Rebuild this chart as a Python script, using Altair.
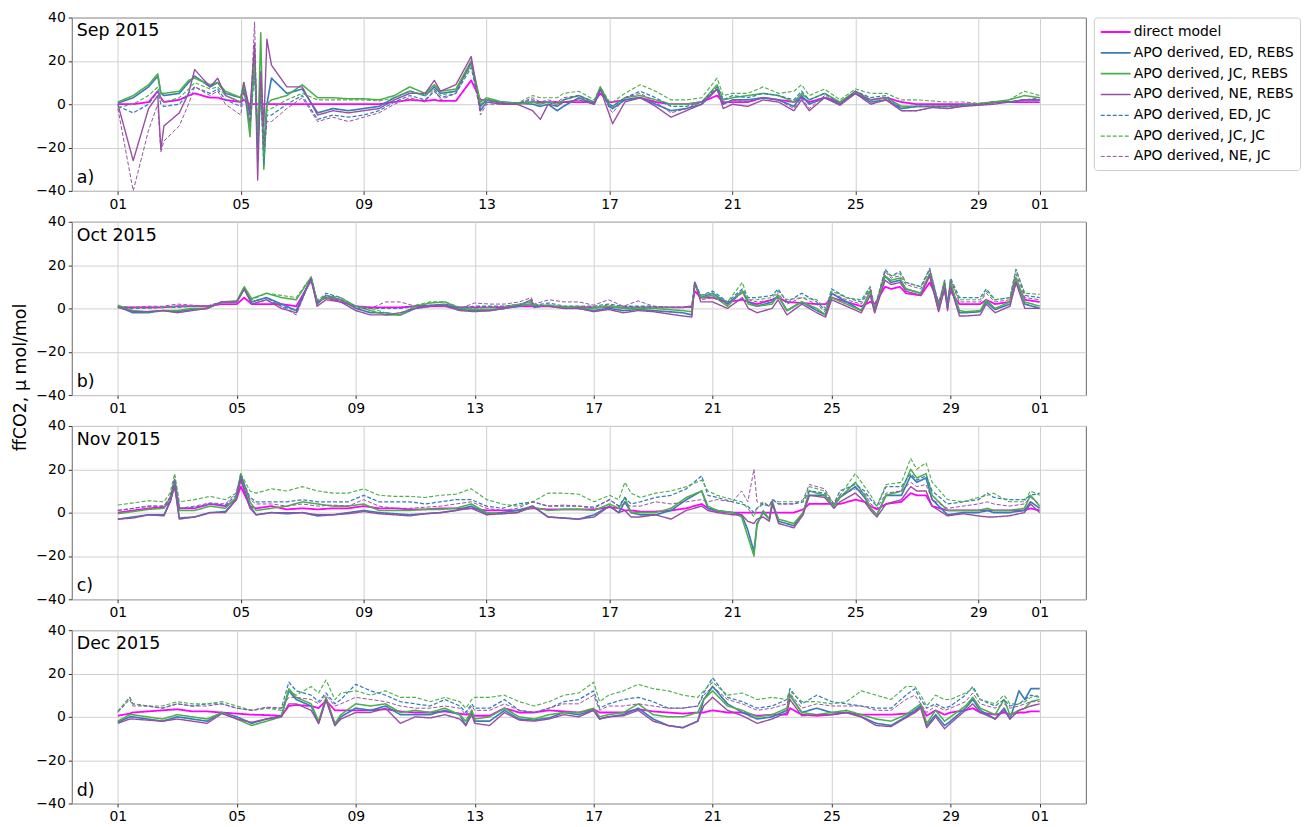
import altair as alt
import pandas as pd

FONT = "DejaVu Sans"

SERIES = ["direct model", "APO derived, ED, REBS", "APO derived, JC, REBS", "APO derived, NE, REBS",
          "APO derived, ED, JC", "APO derived, JC, JC", "APO derived, NE, JC"]
COLORS = ["#ff00ff", "#377eb8", "#4daf4a", "#984ea3", "#377eb8", "#4daf4a", "#984ea3"]
DASHES = [[1, 0], [1, 0], [1, 0], [1, 0], [4, 2], [4, 2], [4, 2]]
WIDTHS = [1.8, 1, 1, 1, 1, 1, 1]

# ---------------- September 2015 (days since Sep 1) ----------------
SEP_T = [0, 0.5, 1, 1.3, 1.4, 1.5, 2, 2.3, 2.5, 3,
         3.25, 3.5, 4, 4.1, 4.3, 4.45, 4.55, 4.65, 4.75, 4.85,
         5, 5.5, 6, 6.5, 7, 7.5, 8, 8.5, 9, 9.5,
         10, 10.3, 10.5, 11, 11.5, 11.8, 12, 12.5, 13, 13.5,
         13.75, 14, 14.3, 14.5, 15, 15.5, 15.7, 16, 16.1, 16.5,
         17, 17.5, 18, 18.5, 19, 19.5, 19.7, 20, 20.5, 21,
         21.5, 22, 22.25, 22.5, 23, 23.5, 24, 24.5, 25, 25.5,
         26, 26.5, 27, 27.5, 28, 28.5, 29, 29.5, 30]
SEP_DM = [0, 0, 1, 6, 3, 1, 2, 4, 5, 3,
          3, 2, 1, 2, 0, 0, 0, 0, 0, 0,
          0, 0, 0, 0, 0, 0, 0, 0, 1, 2,
          1.5, 2, 1.5, 1.5, 11, 2, 2, 0.5, 0.5, 1,
          1, 1, 1, 1, 1, 1, 5, 1, 1, 2,
          3, 1, 0, 0, 1, 4, 1, 1, 1, 3,
          2, 1, 3, 1, 3, 1, 5, 2, 3, 1,
          0, 0, 0, 0, 0, 1, 1, 1, 1]
SEP_ED_R = [0.5, 3, 8, 13, 5, 4, 5, 10, 13, 8,
            10, 5, 3, 9, -5, 20, -15, 10, -20, 0,
            12, 5, 7, -4, -2, -3, -2, -1, 3, 6,
            4, 8, 5, 6, 19, -1, 2, 1, 0.5, 0,
            -1, 0, -3, -1, 3, 0, 7, -1, -2, 2,
            3, 0, -3, -2, 0, 7, 0, 2, 2, 3,
            2, -1, 4, 0, 3, 0, 5, 1, 2, -2,
            -1, -1, -1, -0.5, 0, 1, 1, 2, 2]
SEP_JC_R = [1, 4, 9, 14, 5, 5, 6, 11, 12, 9,
            10, 6, 3, 10, -15, 25, -20, 33, -30, 0,
            2, 4, 9, 3, 3, 2.5, 2.5, 2, 4, 8,
            5, 9, 6, 7, 20, 1, 3, 1, 0, 1,
            0, 1, 0, 2, 4, 1, 8, 0, -1, 3,
            4, 2, 0, 0, 1, 9, 2, 3, 4, 5,
            4, 1, 5, 2, 5, 1, 6, 2, 3, -1,
            -1, -1, -1, -0.5, 0, 1, 2, 4, 3]
SEP_NE_R = [0, -26, -2, 4, -21, -10, -4, 5, 16, 8,
            12, 4, 1, 10, -3, 28, -35, 15, -10, 30,
            18, 8, 8, -5, -3, -4, -3, -2, 2, 5,
            5, 11, 6, 9, 22, -3, 1, 0, 0, -3,
            -7, 0, -1, 1, 2, 0, 7, -5, -9, 1,
            3, -1, -6, -3, 0, 7, -2, 0, -1, 2,
            1, -3, 2, -3, 3, -0.5, 5, 0, 2, -3,
            -3, -1.5, -2, -1, -0.5, 0, 1, 2, 2]
SEP_ED_J = [-1, -4, 0, 6, 0, -1, 0, 5, 8, 5,
            7, 2, -1, 7, -10, 15, -20, 5, -28, -5,
            -5, 0, 4, -7, -5, -6, -5, -3, 1, 4,
            2, 6, 3, 5, 17, -3, 1, 1, 0.5, 2,
            1, 1, -1, 2, 4, 1, 7, 0, -1, 3,
            6, 3, -1, -1, 1, 8, 2, 4, 3, 5,
            4, 2, 6, 2, 5, 0, 6, 3, 4, -2,
            -1, -1, -1, -0.5, 0, 1, 1, 2, 2]
SEP_JC_J = [-1.5, 0, 4, 8, 2, 1, 3, 7, 10, 7,
            8, 4, 1, 8, -10, 18, -15, 8, -25, -3,
            -2, 2, 5, 2, 2, 2, 2, 1.5, 3, 6,
            4, 7, 4, 6, 18, 0, 2, 1, 0.5, 4,
            3, 3, 3, 5, 6, 2, 8, 1, 1, 5,
            9, 6, 2, 2, 3, 12, 4, 5, 5, 8,
            5, 6, 9, 4, 7, 2, 7, 5, 5, 2,
            2, 1.5, 1, 1, 0.5, 1, 2, 6, 4]
SEP_NE_J = [-2, -40, -12, 0, -22, -17, -10, 0, 8, 4,
            6, 0, -5, 6, -8, 38, -25, 10, -20, -8,
            -8, -2, 3, -8, -6, -8, -6, -4, 0, 3,
            1, 7, 2, 5, 20, -5, 0, 0, 0, 3,
            1, 2, 1, 3, 4, 0, 7, -2, -4, 3,
            5, 1, -4, -2, 1, 7, 0, 2, 1, 3,
            2, -2, 3, -2, 4, 0, 6, 2, 3, -3,
            -3, -1.5, -2, -1, 0, 0.5, 1, 2, 3]

# ---------------- October 2015 ----------------
OCT_T = [0, 0.5, 1, 1.5, 2, 2.5, 3, 3.5, 4, 4.25,
         4.5, 5, 5.5, 6, 6.5, 6.7, 7, 7.5, 8, 8.5,
         9, 9.5, 10, 10.5, 11, 11.5, 12, 12.5, 13, 13.5,
         13.9, 14, 14.5, 15, 15.5, 16, 16.5, 17, 17.5, 18,
         18.5, 19, 19.3, 19.4, 19.6, 20, 20.5, 21, 21.2, 21.5,
         22, 22.2, 22.5, 23, 23.5, 23.8, 24, 24.5, 25, 25.3,
         25.45, 25.8, 26, 26.3, 26.5, 27, 27.3, 27.6, 27.8, 27.9,
         28, 28.3, 28.5, 29, 29.2, 29.5, 30, 30.2, 30.5, 31]
OCT_DM = [0.5, 0.5, 0.5, 0.5, 1, 1, 1, 2, 2, 5,
          2, 2, 2, 1, 13, 3, 5, 3, 1, 0.5,
          0.5, 0.5, 1, 1, 1, 0.5, 0.5, 0.5, 0.5, 1,
          1, 1, 1, 0.5, 0.5, 0.5, 0.5, 0.5, 0.5, 0.5,
          0.5, 0.5, 1, 8, 5, 5, 3, 4, 3, 2,
          4, 5, 3, 2.5, 2, 2, 5, 3, 1, 3,
          2, 10, 9, 10, 7, 6, 12, 3, 8, 3,
          8, 2, 2, 2, 4, 2, 3, 12, 4, 3]
OCT_ED_R = [1, -2, -2, -1, -1.5, -0.5, 0, 3, 3, 9,
            3, 5, 2, -1, 14, 2, 6, 4, 0, -2,
            -2, -3, 0, 1, 1.5, -0.5, -1, -1, 0, 1,
            2, 0.5, 1.5, 0, 0, -1, 0, -1, -0.5, -1,
            -1.5, -2, -3, 12, 5, 7, 2, 8, 3, 1,
            3, 6, -1, 3, -1, -3, 7, 3, -1, 8,
            -1.5, 15, 12, 13, 9, 7, 16, -1, 10, 0,
            11, -2, -2, -1.5, 3, -0.5, 2, 14, 2, 0]
OCT_JC_R = [1.5, -1, -1.5, -1, -1, 0, 0, 3, 3.5, 10,
            4.5, 7, 5, 4, 14.5, 3, 5, 4, 1, -1,
            -3, -3, 1, 2.5, 3, 0, -0.5, -0.5, 0, 1.5,
            2, 1, 1, 0.5, 0, 0, 1, 0, 0, 0,
            -0.5, -1, -1.5, 11, 5, 6, 1, 8, 2, 1,
            2, 6, -1, 3, 0, -3, 5, 2, -1, 8,
            -1, 15, 13, 14, 9, 7, 16, 0, 11, 1,
            12, -1, -1.5, -1, 4, 0, 3, 14, 3, 1]
OCT_NE_R = [0.5, -1.5, -1.5, -1, -2, -1, 0, 3, 3, 9,
            2, 4, 0, -2, 14, 1, 4, 3, -1, -3,
            -3, -2, 0, 1, 1, -1, -1.5, -1, 0, 1.5,
            4, 1, 1, 0, 0, -1.5, -0.5, -2, -1, -1.5,
            -2.5, -3.5, -4, 12, 3, 3, 0, 5, 0, -2,
            0, 4, -3, 2, -2, -4, 4, 1, -2, 6,
            -2, 13, 11, 12, 8, 6, 15, -1.5, 9, -1,
            10, -3.5, -3.5, -3, 2, -2, 1, 12, 0, 0]
OCT_ED_J = [0.5, 0, 0, 0.5, 0.5, 1, 1, 3, 3, 9,
            3, 5, 1, -1, 14, 3, 7, 5, 1, 0,
            0, 0, 1, 1.5, 2, 0.5, 1, 1, 1, 2,
            3, 1.5, 2.5, 1, 1, 1, 2, 1, 1, 1,
            0.5, 0.5, 0.5, 12, 6, 8, 3, 9, 5, 5,
            6, 9, 3, 7, 3, -1, 9, 5, 3, 10,
            0, 18, 15, 17, 12, 10, 18.5, 2, 13, 2,
            14, 5, 5, 5, 9, 4, 5, 18, 6, 5]
OCT_JC_J = [1, 0.5, 0, 0.5, 1, 1, 1, 3, 3, 10,
            4, 7, 6, 5, 14.5, 4, 6, 5, 1, 0,
            -2, -3, 1.5, 3, 3, 0.5, 0, 0.5, 1, 2,
            3, 1.5, 1.5, 1, 1, 0.5, 1.5, 0.5, 0.5, 0.5,
            0.5, 0.5, 0.5, 11, 6, 7, 3, 12, 4, 4,
            5, 8, 4, 5, 4, 0, 8, 5, 4, 10,
            0, 17, 15, 16, 12, 10, 18, 2, 13, 3,
            13, 4, 4, 4, 8, 4, 5, 18, 7, 6.5]
OCT_NE_J = [0.5, 0.5, 1, 1, 2, 1.5, 1, 3, 3, 9,
            2, 4, 1, -3, 14, 2, 5, 4, 0, 0,
            3, 3, 1, 1.5, 2, 0, 2.5, 2, 2, 3,
            5, 2, 4, 3, 3, 1.5, 4, 1, 3.5, 1,
            0.5, 0.5, 0.5, 12, 4, 5, 2, 7, 4, 3,
            4, 7, 2, 5, 2, -2, 7, 4, 2, 9,
            0, 17, 14, 15, 11, 9, 18, 1, 12, 2,
            13, 3, 3, 3, 7, 3, 4, 16, 5, 4]

# ---------------- November 2015 ----------------
NOV_T = [0, 0.5, 1, 1.5, 1.7, 1.85, 2, 2.5, 3, 3.5,
         3.85, 4, 4.3, 4.5, 5, 5.5, 6, 6.5, 7, 7.5,
         8, 8.5, 9, 9.5, 10, 10.5, 11, 11.5, 12, 12.5,
         13, 13.5, 14, 14.5, 15, 15.5, 16, 16.3, 16.5, 16.7,
         17, 17.5, 18, 18.5, 19, 19.2, 19.5, 20, 20.3, 20.5,
         20.7, 20.8, 21, 21.2, 21.3, 21.5, 22, 22.3, 22.5, 23,
         23.3, 23.5, 24, 24.3, 24.5, 24.7, 25, 25.5, 25.8, 26,
         26.3, 26.5, 27, 27.5, 28, 28.3, 28.5, 29, 29.5, 29.7,
         30]
NOV_DM = [0, 1, 2, 2.5, 5, 14, 2, 2, 4, 3,
          6, 12, 3, 2, 3, 1.5, 2, 1.5, 2, 2,
          3, 2, 2, 1.5, 1.5, 2, 2, 2, 1, 1,
          1, 2, 1.5, 1.5, 1.5, 1.5, 2.5, 2, 1, 1,
          0.5, 0.5, 1, 2, 4, 2, 0.5, 0, 0, 0,
          0, 0, 0, 0, 0, 0, 0, 1.5, 4, 4,
          4, 4, 6, 5, 3, 1.5, 4, 5, 9, 8,
          8, 3, 1, 1, 1, 1, 1, 1, 1, 2,
          1]
NOV_ED_R = [-3, -2, -1, -1, 5, 13, -2.5, -2, 0, 0.5,
            6, 16, 3, -1, 0, -0.5, 0, -1.5, -1, 0,
            1, 0, -0.5, -1, -0.5, 0, 1, 3, -0.5, 0,
            1, 3, -2, -2.5, -3, -1, 3, 0, 5, 0,
            -1, -1, 1, 6, 10, 2, 1, 0, -1, -8,
            -18, -5, 0, -3, 5, -4, -6, 0, 8, 8,
            3, 7, 12, 7, 2, -1, 8, 8, 17, 14,
            16, 6, -1, 0, 0, 1, 0, 0, 1, 5,
            2]
NOV_JC_R = [-0.5, 0.5, 1.5, 2, 7, 15, 1, 1, 3, 2,
            7, 18, 5, 1, 2, 3, 5, 4, 3, 3,
            4, 1, 1, 1, 1.5, 1.5, 2, 4, 0, -0.5,
            0, 2.5, 1, 1.5, 1.5, 1, 4, 2, 7, 0,
            0, 0, 2, 7, 10, 3, 1, 0, -2, -11,
            -20, -6, 1, -3, 4, -3, -5, 0, 10, 8,
            3, 7, 14, 8, 2, -1, 8, 10, 20, 16,
            18, 8, 1, 1, 1, 2, 1, 1, 2, 8,
            3]
NOV_NE_R = [-3, -2.5, -1, -1.5, 5, 12, -3, -2, 0, 0,
            6, 15, 2, -1, 0, 0, 0, -1, -1, -0.5,
            0.5, -0.5, -1, -1.5, -0.5, 0, 1, 2, -1, -0.5,
            0, 3, -2, -2.5, -3, -2, 3, 0, 1, -2,
            -2, -1, -3, 1, 3, 1, 0, -1, -1, -4,
            -5, -3, -2, -4, 4, -5, -7, -1, 8, 7,
            2, 5, 9, 5, 1, -2, 4, 6, 12, 10,
            10, 3, -1.5, -0.5, -1.5, -2, -2, -1.5, 0, 4,
            0]
NOV_ED_J = [1, 2, 3, 3, 7, 15, 2, 2.5, 4, 3.5,
            8, 17, 7, 5, 5, 5, 6, 5, 5, 5,
            8, 5, 5, 5, 4, 5, 6, 6, 3, 2,
            4, 5, 3, 3, 3, 2.5, 6, 3, 7, 4,
            5, 7, 8, 11, 17, 8, 7, 5, 4, 3,
            0, 2, 4, 3, 6, 4, 4, 5, 10, 9,
            4, 10, 13, 10, 6, 3, 12, 12, 18, 15,
            17, 10, 4, 5, 6, 9, 7, 6, 6, 8,
            9]
NOV_JC_J = [3.5, 4.5, 5.5, 5, 9, 18, 5, 6, 7.5, 6,
            9, 18, 10, 9, 11, 10, 12, 10, 9, 9,
            11, 8, 7.5, 7.5, 7, 8, 8.5, 11, 6, 4,
            3, 5, 9, 9, 8.5, 5, 8, 6, 14, 9,
            7, 9, 10, 12, 15, 10, 8, 6, 5, 2,
            -2, 2, 5, 3, 6, 5, 5, 5, 12, 10,
            4, 8, 18, 12, 8, 3, 13, 14, 25, 20,
            23, 14, 6, 5, 7, 8, 9, 5, 5, 10,
            8]
NOV_NE_J = [1, 2, 3, 3, 7, 16, 2, 3, 4.5, 4,
            9, 17, 6, 4, 4, 3, 4, 3, 3.5, 3,
            6, 3, 2, 2, 2.5, 3, 4, 5, 2, 1,
            2, 5, 3, 3.5, 3, 2, 6, 3, 4, 3,
            3, 5, 4, 5, 6, 5, 6, 5, 10, 5,
            20, 5, 4, 3, 6, 4, 4, 6, 13, 11,
            4, 8, 11, 9, 4, 2, 9, 10, 14, 12,
            13, 6, 2, 3, 4, 5, 4, 3, 4, 7,
            4]

# ---------------- December 2015 ----------------
DEC_T = [0, 0.4, 0.5, 1, 1.5, 2, 2.5, 3, 3.5, 4,
         4.5, 5, 5.5, 5.75, 6, 6.5, 6.75, 7, 7.3, 7.5,
         8, 8.5, 9, 9.5, 10, 10.5, 11, 11.5, 11.7, 11.9,
         12, 12.5, 13, 13.5, 14, 14.5, 15, 15.5, 16, 16.2,
         16.5, 17, 17.5, 18, 18.5, 19, 19.5, 19.7, 20, 20.5,
         21, 21.5, 22, 22.5, 22.6, 23, 23.5, 24, 24.5, 25,
         25.5, 26, 26.5, 26.8, 27, 27.2, 27.5, 27.8, 28, 28.5,
         28.75, 29, 29.5, 29.8, 30, 30.3, 30.5, 30.7, 31]
DEC_DM = [0.5, 1.5, 2, 2.5, 3, 3.5, 2.5, 2.5, 2, 1.5,
          1, 0.8, 0.5, 5, 5.5, 5, 4, 7.5, 3, 3,
          3, 3, 3.5, 2.5, 2, 2, 2.5, 1.5, 1, 1.5,
          0.5, 0.5, 4, 2, 2, 3, 2.5, 2, 3.5, 2,
          2, 2, 3.5, 2.5, 2, 1.5, 2, 2, 3, 2,
          2, 0.5, 1, 1, 4, 1, 0.5, 1, 2, 1,
          1, 1, 1.5, 2, 5, 0.5, 3, 1, 2, 3,
          4, 2, 1, 2, 1, 2, 2, 2.5, 2.5]
DEC_ED_R = [-2.5, 0, 0, -1, -2, 0, -1, -2, 2, 0,
            -3, -1, 0.5, 12, 8, 5, -3, 8, -4, 0,
            4, 3, 5, 1, 1, 1, 3, 1, -4, 3,
            -2, -2, 3, -1, -1.5, -0.5, 2, 1, 3, -1,
            0, 1, 4, -1, -4, -5, -2, 8, 14, 6,
            2, -1, 0, 3, 10, 2, 4, 2, 2, 0,
            -3, -4, 0, 3, 5, -4, 1, -4, -2, 4,
            8, 3, -1, 4, -1, 12, 8, 13, 13]
DEC_JC_R = [-2, 1, 1, 0, -1, 1, 0, -1, 2, -1,
            -4, -2, 0, 13, 9, 6, -2, 9, -3, 1,
            6, 5, 6, 2, 3, 2, 4, 1, -2, 3,
            -1, 0, 4, 0, -1, 1, 2, 2, 4, 0,
            1, 2, 6, 1, 0, 0, 2, 8, 12, 5,
            3, 0, 1, 4, 10, 2, 1, 2, 3, 1,
            -1, -2, 1, 4, 6, -3, 3, -2, 0, 5,
            9, 4, 1, 8, 1, 3, 4, 7, 8]
DEC_NE_R = [-3, -1, -1, -1.5, -2, -1, -2, -3, 1.5, -1,
            -2.5, -1, 0, 6, 6, 3, -3, 8, -4, -1,
            2, 2, 4, -3, 0, -0.5, 1, -1, -4, 1,
            -3, -4, 2, -1.5, -2, -1, 1, 0, 3, -1,
            0, 0.5, 3, -2, -4, -5, -2, 5, 9, 3,
            0.5, -3, -1, 2, 8, 0.5, 1, 1, 2, 0,
            -4, -4.5, -0.5, 2, 4, -5, 0, -5.5, -3, 3,
            6, 2, -1, 3, -1, 3, 4, 5, 6]
DEC_ED_J = [2.5, 9, 6, 5, 4, 6, 5, 6, 6, 4,
            3, 4, 4, 16, 12, 10, 7, 11, 6, 8,
            15, 12, 10, 7, 6, 5, 8, 5, 2, 6,
            4, 4, 8, 3, 2, 4, 7, 8, 12, 4,
            6, 8, 9, 7, 4, 4, 5, 11, 18, 9,
            7, 4, 5, 8, 13, 6, 10, 7, 6, 5,
            4, 4, 10, 13, 8, 4, 6, 4, 5, 10,
            14, 8, 5, 8, 5, 6, 8, 10, 9]
DEC_JC_J = [2.5, 9, 6, 5, 5, 7, 6, 6, 7, 5,
            3, 4, 3, 12, 10, 14, 11, 17, 8, 11,
            12, 10, 12, 9, 9, 7, 9, 7, 4, 8,
            9, 9, 10, 7, 5, 7, 10, 11, 16, 7,
            10, 12, 15, 13, 12, 10, 9, 12, 16, 10,
            11, 8, 9, 8, 12, 7, 7, 6, 7, 12,
            10, 8, 14, 14, 10, 5, 10, 8, 8, 11,
            13, 8, 6, 10, 6, 6, 7, 9, 10]
DEC_NE_J = [2, 8, 5, 5, 4, 6, 5, 5, 6, 4,
            3, 4.5, 4, 9, 9, 8, 6, 10, 5, 6,
            9, 8, 7, 5, 4, 4, 5, 4, 1, 5,
            3, 3, 6, 3, 2, 4, 6, 6, 10, 3,
            5, 5, 6, 5, 4, 4, 5, 10, 14, 8,
            6, 3, 4, 6, 11, 4, 6, 5, 5, 5,
            3, 3, 8, 10, 6, 2, 5, 3, 4, 7,
            11, 6, 4, 6, 4, 5, 6, 7, 7]

PANELS = [
    ("2015-09-01", 30, "Sep 2015", "a)", SEP_T,
     [SEP_DM, SEP_ED_R, SEP_JC_R, SEP_NE_R, SEP_ED_J, SEP_JC_J, SEP_NE_J]),
    ("2015-10-01", 31, "Oct 2015", "b)", OCT_T,
     [OCT_DM, OCT_ED_R, OCT_JC_R, OCT_NE_R, OCT_ED_J, OCT_JC_J, OCT_NE_J]),
    ("2015-11-01", 30, "Nov 2015", "c)", NOV_T,
     [NOV_DM, NOV_ED_R, NOV_JC_R, NOV_NE_R, NOV_ED_J, NOV_JC_J, NOV_NE_J]),
    ("2015-12-01", 31, "Dec 2015", "d)", DEC_T,
     [DEC_DM, DEC_ED_R, DEC_JC_R, DEC_NE_R, DEC_ED_J, DEC_JC_J, DEC_NE_J]),
]

W, H = 1018, 174


def dt(ts):
    return alt.DateTime(year=ts.year, month=ts.month, date=ts.day,
                        hours=ts.hour, minutes=ts.minute)


legend = alt.Legend(title=None, orient="right", offset=7, symbolType="M-1,0H3", symbolSize=225,
                    labelFontSize=14, labelFont=FONT, labelColor="#000000", padding=6,
                    strokeColor="#cccccc", cornerRadius=3, fillColor="white",
                    rowPadding=4.9, labelOffset=17, labelLimit=400)

charts = []
for start, ndays, name, tag, times, vals in PANELS:
    t0 = pd.Timestamp(start)
    rows = []
    for s, v in zip(SERIES, vals):
        assert len(v) == len(times), (name, s, len(v), len(times))
        for t, y in zip(times, v):
            rows.append({"date": (t0 + pd.Timedelta(days=t)).strftime("%Y-%m-%dT%H:%M:%S"),
                         "value": y, "series": s})
    df = pd.DataFrame(rows)
    margin = pd.Timedelta(days=0.05 * ndays)
    t1 = t0 + pd.Timedelta(days=ndays)
    ticks = [dt(t0 + pd.Timedelta(days=d)) for d in range(0, 29, 4)] + [dt(t1)]

    lines = alt.Chart(df).mark_line(clip=True, strokeJoin="round").encode(
        x=alt.X("date:T", title=None,
                scale=alt.Scale(domain=[dt(t0 - margin), dt(t1 + margin)]),
                axis=alt.Axis(values=ticks, format="%d", grid=True)),
        y=alt.Y("value:Q", title=None, scale=alt.Scale(domain=[-40, 40], nice=False),
                axis=alt.Axis(values=[-40, -20, 0, 20, 40],
                              labelExpr="replace(datum.label, '-', '\u2212')")),
        color=alt.Color("series:N", scale=alt.Scale(domain=SERIES, range=COLORS),
                        legend=legend, title=None),
        strokeDash=alt.StrokeDash("series:N", scale=alt.Scale(domain=SERIES, range=DASHES),
                                  legend=legend, title=None),
        strokeWidth=alt.StrokeWidth("series:N", scale=alt.Scale(domain=SERIES, range=WIDTHS),
                                    legend=legend, title=None),
    )
    top_lab = alt.Chart(pd.DataFrame({"lab": [name]})).mark_text(
        align="left", baseline="top", fontSize=17.5, font=FONT, color="#000000"
    ).encode(x=alt.value(5), y=alt.value(5), text="lab:N")
    bot_lab = alt.Chart(pd.DataFrame({"lab": [tag]})).mark_text(
        align="left", baseline="bottom", fontSize=17.5, font=FONT, color="#000000"
    ).encode(x=alt.value(5), y=alt.value(H - 4), text="lab:N")
    charts.append(alt.layer(lines, top_lab, bot_lab).properties(width=W, height=H))

chart = alt.vconcat(*charts, spacing=2).resolve_scale(
    x="independent", color="shared", strokeDash="shared", strokeWidth="shared"
).properties(
    title=alt.TitleParams("ffCO2, \u03bc mol/mol", orient="left", anchor="middle",
                          fontSize=17.5, font=FONT, fontWeight="normal", color="#000000",
                          offset=6, dx=40),
    padding={"left": 3, "top": 0, "right": 0, "bottom": 0},
).configure_view(
    stroke="#666666", strokeWidth=1
).configure_axis(
    domain=False, grid=True, gridColor="#d0d0d0", gridWidth=1,
    tickColor="#333333", tickSize=3.5, labelPadding=3,
    labelFont=FONT, labelFontSize=14, labelColor="#000000"
)

chart.save("out.html", embed_options={"renderer": "svg", "actions": False})
